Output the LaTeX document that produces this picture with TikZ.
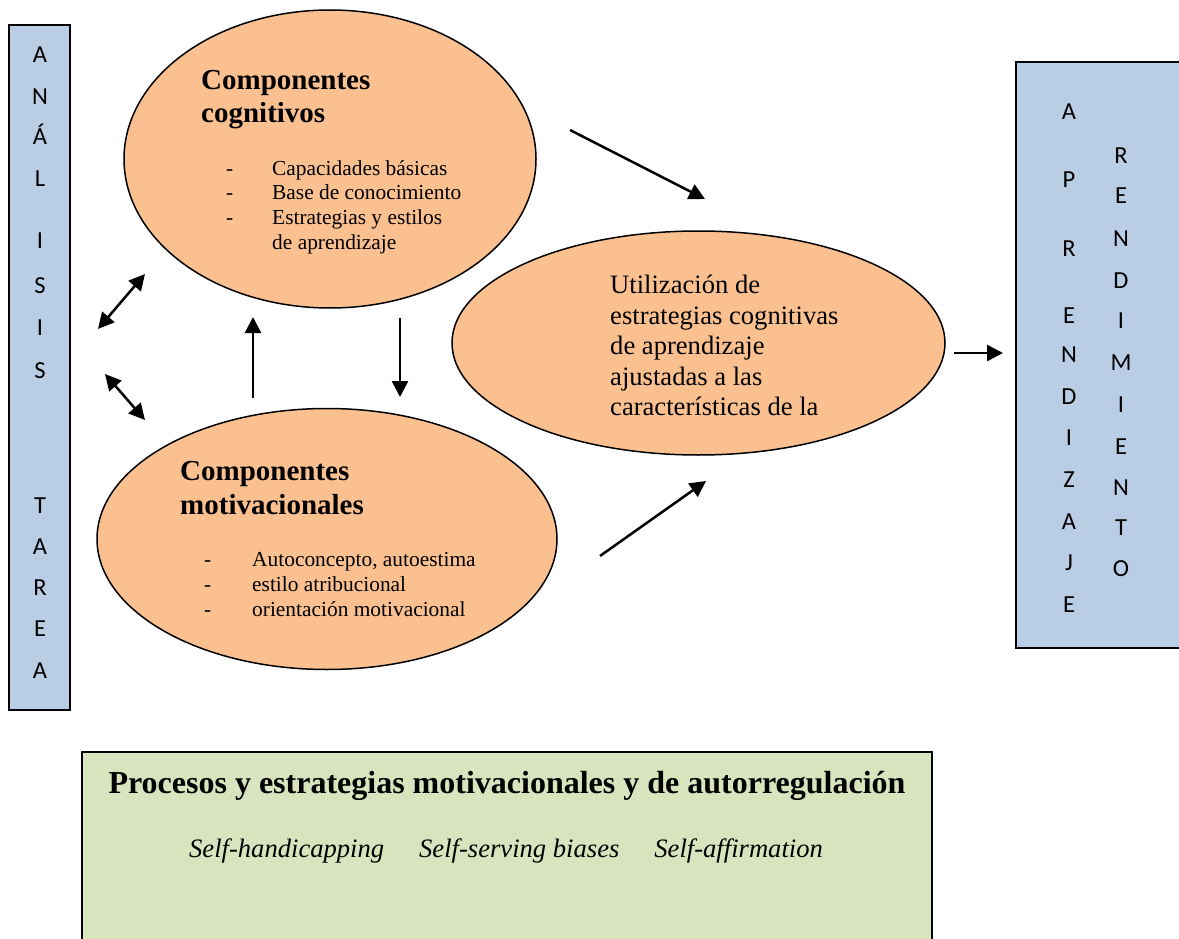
\documentclass[tikz,border=0pt]{standalone}
\usepackage{fontspec}
\setmainfont{Liberation Serif}
\newfontfamily\calibrifont{Carlito}
\usetikzlibrary{shapes.geometric,arrows.meta}
\definecolor{peach}{HTML}{FAC090}
\definecolor{paleblue}{HTML}{B9CDE5}
\definecolor{palegreen}{HTML}{D7E4BD}

\begin{document}
\begin{tikzpicture}[x=1pt,y=-1pt,
  bubble/.style={ellipse,draw,fill=peach,line width=1.5pt,inner sep=0pt},
  panel/.style={rectangle,draw,line width=1.5pt,inner sep=0pt},
  letter/.style={anchor=base,inner sep=0pt,font=\calibrifont\fontsize{24.5}{26}\selectfont},
  dashmark/.style={anchor=base west,inner sep=0pt,font=\fontsize{21.4}{24}\selectfont},
  item/.style={anchor=base west,inner sep=0pt,font=\fontsize{21.4}{24}\selectfont},
  heading/.style={anchor=base west,inner sep=0pt,font=\bfseries\fontsize{29}{32}\selectfont},
  bodytext/.style={anchor=base west,inner sep=0pt,font=\fontsize{26.6}{30}\selectfont},
  flow/.style={line width=2.5pt,-{Triangle[length=16pt,width=16pt]}},
  twoway/.style={line width=2.5pt,{Triangle[length=16pt,width=16pt]}-{Triangle[length=16pt,width=16pt]}},
]
\useasboundingbox (0,0) rectangle (1179,939);
\clip (0,0) rectangle (1179,939);

% side panels and bottom panel
\node[panel,fill=paleblue,minimum width=61pt,minimum height=685pt] (tarea) at (39.5,367.5) {};
\node[panel,fill=paleblue,minimum width=180pt,minimum height=586pt] (logro) at (1106,355) {};
\node[panel,fill=palegreen,minimum width=850pt,minimum height=220pt] (procesos) at (507,862) {};

% vertical lettering
\foreach \ch/\yy in {A/55,N/97,Á/137,L/178,I/240,S/285,I/327,S/370,T/505,A/546,R/587,E/628,A/670}
  \node[letter] (lt-\yy) at (40,\yy+8) {\ch};
\foreach \ch/\yy in {A/112,P/180,R/248,E/315,N/354,D/396,I/437,Z/479,A/521,J/562,E/604}
  \node[letter] (ap-\yy) at (1069,\yy+8) {\ch};
\foreach \ch/\yy in {R/156,E/196,N/238,D/280,I/320,M/362,I/404,E/446,N/487,T/527,O/568}
  \node[letter] (rd-\yy) at (1121,\yy+8) {\ch};

% ellipses
\node[bubble,minimum width=412pt,minimum height=298pt] (cog) at (330,159) {};
\node[bubble,minimum width=460pt,minimum height=261pt] (mot) at (327,539) {};
\node[bubble,minimum width=493pt,minimum height=224pt] (uso) at (698.5,343) {};

% cognitive components
\node[heading] (cogh1) at (201,90) {Componentes};
\node[heading] (cogh2) at (201,123) {cognitivos};
\node[dashmark] (cogd1) at (226,176) {-};
\node[dashmark] (cogd2) at (226,200) {-};
\node[dashmark] (cogd3) at (226,225) {-};
\node[item] (cogi1) at (272,176) {Capacidades básicas};
\node[item] (cogi2) at (272,200) {Base de conocimiento};
\node[item] (cogi3) at (272,225) {Estrategias y estilos};
\node[item] (cogi4) at (272,249) {de aprendizaje};

% motivational components
\node[heading] (moth1) at (180,480) {Componentes};
\node[heading] (moth2) at (180,514) {motivacionales};
\node[dashmark] (motd1) at (204,566) {-};
\node[dashmark] (motd2) at (204,591) {-};
\node[dashmark] (motd3) at (204,616) {-};
\node[item] (moti1) at (252,566) {Autoconcepto, autoestima};
\node[item] (moti2) at (252,591) {estilo atribucional};
\node[item] (moti3) at (252,616) {orientación motivacional};

% strategy use
\node[bodytext] (uso1) at (610,293) {Utilización de};
\node[bodytext] (uso2) at (610,324) {estrategias cognitivas};
\node[bodytext] (uso3) at (610,354) {de aprendizaje};
\node[bodytext] (uso4) at (610,385) {ajustadas a las};
\node[bodytext] (uso5) at (610,415) {características de la};

% bottom panel text
\node[anchor=base,inner sep=0pt,font=\bfseries\fontsize{32}{36}\selectfont] (ptitle) at (507,793)
  {Procesos y estrategias motivacionales y de autorregulación};
\node[anchor=base,inner sep=0pt,font=\itshape\fontsize{26.6}{30}\selectfont] (pitems) at (506,857)
  {Self-handicapping\hspace{35pt}Self-serving biases\hspace{35pt}Self-affirmation};

% arrow end points
\coordinate (ta1) at (98,329);
\coordinate (ca1) at (145,274);
\coordinate (ta2) at (105,374);
\coordinate (ma2) at (145,420);
\coordinate (mup) at (253,398);
\coordinate (cup) at (253,317);
\coordinate (cdn) at (400,318);
\coordinate (mdn) at (400,397);
\coordinate (cout) at (570,130);
\coordinate (uin1) at (705,199);
\coordinate (mout) at (600,556);
\coordinate (uin2) at (706,481);
\coordinate (uout) at (954,353);
\coordinate (lin) at (1003,353);

\draw[twoway] (ta1) -- (ca1);
\draw[twoway] (ta2) -- (ma2);
\draw[flow] (mup) -- (cup);
\draw[flow] (cdn) -- (mdn);
\draw[flow] (cout) -- (uin1);
\draw[flow] (mout) -- (uin2);
\draw[flow] (uout) -- (lin);
\end{tikzpicture}
\end{document}
